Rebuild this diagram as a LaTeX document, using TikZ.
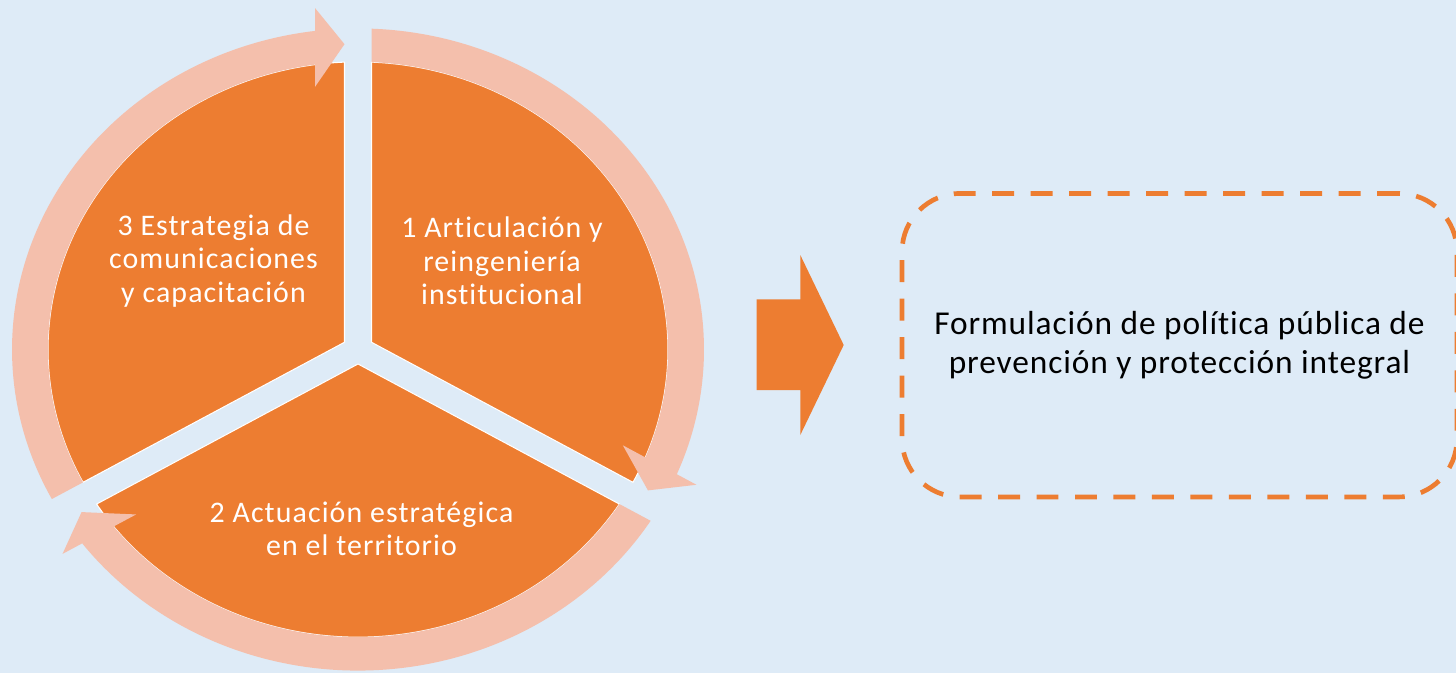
\documentclass[tikz,border=0pt]{standalone}
\usepackage{fontspec}
\setmainfont{Carlito}[Ligatures=NoCommon]
\newfontfamily\circfont{Carlito}[Ligatures=NoCommon, LetterSpace=3.7]
\newfontfamily\boxfont{Carlito}[Ligatures=NoCommon, LetterSpace=2.7]
\usetikzlibrary{calc}
\definecolor{bgblue}{HTML}{DEEBF7}
\definecolor{orng}{HTML}{ED7D31}
\definecolor{ringc}{HTML}{F4BFAC}
\begin{document}
\begin{tikzpicture}[x=0.02cm,y=0.02cm,
  sector/.style={fill=orng, draw=white, line width=0.6pt},
  ringarrow/.style={fill=ringc},
  sectortxt/.style={text=white, font=\circfont\fontsize{17}{19}\selectfont, align=center, inner sep=0pt},
  boxtxt/.style={text=black, font=\boxfont\fontsize{19}{21.8}\selectfont, align=center, inner sep=0pt,
    draw=orng, line width=2.66pt, dash pattern=on 12.5pt off 9.4pt, rounded corners=1.16cm,
    minimum width=11.1cm, minimum height=6.07cm}]
\fill[bgblue] (0,0) rectangle (1456,-673);
\useasboundingbox (0,0) rectangle (1456,-673);
\clip (0,0) rectangle (1456,-673);

\begin{scope}[shift={(358,-349.5)}, yscale=0.928]
  % sectors
  \path[sector] (13.5,7.8) -- (87.5:310) arc[start angle=87.5, end angle=-27.5, radius=310] -- cycle;
  \path[sector] (0,-15.6) -- (-32.5:310) arc[start angle=-32.5, end angle=-147.5, radius=310] -- cycle;
  \path[sector] (-13.5,7.8) -- (207.5:310) arc[start angle=207.5, end angle=92.5, radius=310] -- cycle;
  % ring arrows
  \path[ringarrow] (87.76:346) arc[start angle=87.76, end angle=-22.86, radius=346]
     -- ($(-30:366)+(60:43)$) -- ($(-30:327)+(60:13.5)$) -- ($(-30:281)+(60:43)$)
     -- (-22.03:310) arc[start angle=-22.03, end angle=87.5, radius=310] -- cycle;
  \path[ringarrow] (-32.24:346) arc[start angle=-32.24, end angle=-142.86, radius=346]
     -- ($(210:366)+(300:43)$) -- ($(210:327)+(300:13.5)$) -- ($(210:281)+(300:43)$)
     -- (-142.03:310) arc[start angle=-142.03, end angle=-32.5, radius=310] -- cycle;
  \path[ringarrow] (207.76:346) arc[start angle=207.76, end angle=97.14, radius=346]
     -- ($(90:368)+(180:43)$) -- ($(90:329)+(180:13.5)$) -- ($(90:283)+(180:43)$)
     -- (97.97:310) arc[start angle=97.97, end angle=207.5, radius=310] -- cycle;
\end{scope}

\node[sectortxt] (t3) at (213.5,-261) {3 Estrategia de\\comunicaciones\\y capacitación};
\node[sectortxt] (t1) at (502,-261) {1 Articulación y\\reingeniería\\institucional};
\node[sectortxt] (t2) at (361.5,-529) {2 Actuación estratégica\\en el territorio};

% block arrow
\fill[orng] (756.7,-299.3) -- (800.3,-299.3) -- (800.3,-255) -- (843.7,-345)
  -- (800.3,-435) -- (800.3,-390) -- (756.7,-390) -- cycle;

\node[boxtxt] (box) at (1179.5,-345.2) {Formulación de política pública de\\prevención y protección integral};
\end{tikzpicture}
\end{document}
